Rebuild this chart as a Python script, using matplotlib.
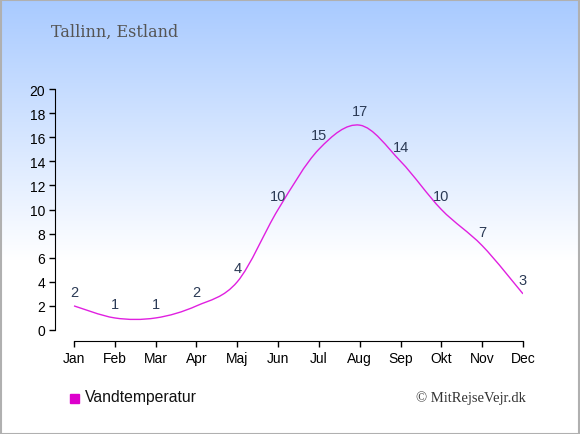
import numpy as np
import matplotlib
matplotlib.use('Agg')
import matplotlib.pyplot as plt
from matplotlib.path import Path
from matplotlib.patches import PathPatch, Rectangle

months = ['Jan', 'Feb', 'Mar', 'Apr', 'Maj', 'Jun', 'Jul', 'Aug', 'Sep', 'Okt', 'Nov', 'Dec']
water_temp = [2, 1, 1, 2, 4, 10, 15, 17, 14, 10, 7, 3]
yticks = [0, 2, 4, 6, 8, 10, 12, 14, 16, 18, 20]

line_col = '#e020e0'
text_col = '#2b3a55'

fig = plt.figure(figsize=(5.8, 4.35), dpi=100)

# background gradient (light blue at top -> white)
bg = fig.add_axes([0, 0, 1, 1], zorder=-10)
h = 435
rows = np.linspace(0, 1, h)
t = np.clip(rows / 0.6, 0, 1)
top = np.array([168, 202, 255]) / 255
grad = top[None, :] * (1 - t[:, None]) + np.ones(3)[None, :] * t[:, None]
bg.imshow(grad[:, None, :], aspect='auto', extent=[0, 1, 0, 1])
bg.set_axis_off()
bg.add_patch(Rectangle((0.001, 0.001), 0.998, 0.997, transform=bg.transAxes,
                       fill=False, edgecolor='#b0b0b0', lw=1.5))

ax = fig.add_axes([55 / 580, (435 - 342) / 435, (523 - 55) / 580, (342 - 90) / 435])
ax.patch.set_alpha(0)
x = np.arange(len(months))

# smooth line through the points (catmull-rom as cubic beziers)
pts = np.column_stack([x, water_temp]).astype(float)
verts = [pts[0]]
codes = [Path.MOVETO]
for i in range(len(pts) - 1):
    p0 = pts[i - 1] if i > 0 else pts[i]
    p1, p2 = pts[i], pts[i + 1]
    p3 = pts[i + 2] if i + 2 < len(pts) else pts[i + 1]
    c1 = p1 + (p2 - p0) / 6
    c2 = p2 - (p3 - p1) / 6
    verts += [c1, c2, p2]
    codes += [Path.CURVE4] * 3
ax.add_patch(PathPatch(Path(verts, codes), fill=False, edgecolor=line_col, lw=1))

for xi, v in zip(x, water_temp):
    ax.annotate(str(v), (xi, v), xytext=(0, 10), textcoords='offset points',
                ha='center', va='center', fontsize=10.5, color=text_col,
                family='Liberation Sans')

ax.set_xlim(-19 / 40.8, 11)
ax.set_ylim(-11 / 12.05, 20)
ax.set_xticks(x)
ax.set_xticklabels(months)
ax.set_yticks(yticks)
for s in ['top', 'right']:
    ax.spines[s].set_visible(False)
ax.spines['left'].set_bounds(0, 20)
ax.spines['bottom'].set_bounds(0, 11)
ax.tick_params(length=4, width=1, labelsize=10, pad=3)
for lab in ax.get_xticklabels() + ax.get_yticklabels():
    lab.set_family('Liberation Sans')

fig.text(51 / 580, 1 - 32 / 435, 'Tallinn, Estland', fontsize=11.5, color='#555555',
         family='DejaVu Serif', va='center', ha='left')

fig.patches.append(Rectangle((70 / 580, 1 - 404 / 435), 9 / 580, 9 / 435,
                             transform=fig.transFigure, color='#dd00cc'))
fig.text(85 / 580, 1 - 398 / 435, 'Vandtemperatur', fontsize=11.3, color='#111111',
         family='Liberation Sans', va='center', ha='left')
fig.text(526 / 580, 1 - 398 / 435, '\u00a9 MitRejseVejr.dk', fontsize=10.5, color='#333333',
         family='Liberation Serif', va='center', ha='right')

fig.savefig('out.png', dpi=100)
